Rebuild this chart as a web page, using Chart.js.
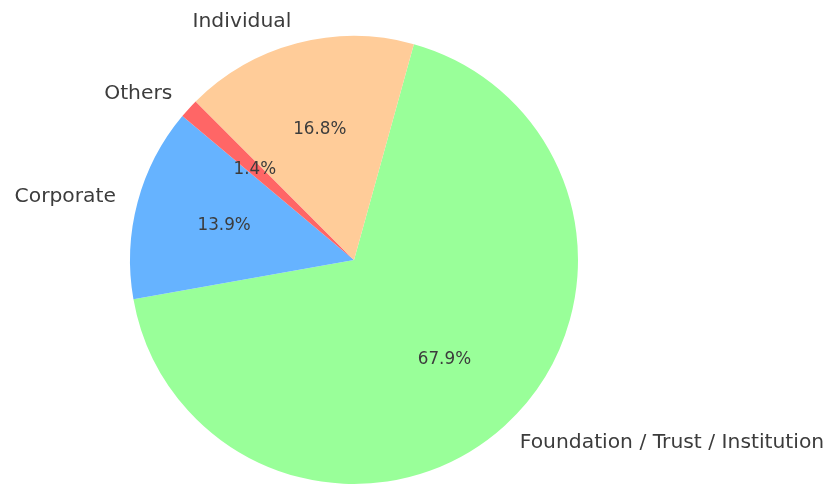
<!DOCTYPE html>
<html>
<head>
<meta charset="utf-8">
<script src="https://cdn.jsdelivr.net/npm/chart.js@4.4.1/dist/chart.umd.min.js"></script>
<style>
  html, body { margin: 0; padding: 0; background: #fff; }
  #wrap { width: 831px; height: 486px; position: relative; }
</style>
</head>
<body>
<div id="wrap"><canvas id="pie"></canvas></div>
<script>
// slices in the order they run clockwise from the top-right edge
const categories = ['Foundation / Trust / Institution', 'Corporate', 'Others', 'Individual'];
const shares = [67.9, 13.9, 1.4, 16.8];
const sliceColors = ['#99ff99', '#66b3ff', '#ff6666', '#ffcc99'];

const textColor = '#3c3c3c';
const fontFamily = '"DejaVu Sans", sans-serif';

// draws the outer labels and the percentages the way matplotlib places them
const pieLabels = {
	id: 'pieLabels',
	afterDatasetsDraw: function (chart) {
		const ctx = chart.ctx;
		const meta = chart.getDatasetMeta(0);
		const total = shares.reduce((a, b) => a + b, 0);
		ctx.save();
		ctx.fillStyle = textColor;
		ctx.textBaseline = 'middle';
		meta.data.forEach(function (arc, i) {
			const p = arc.getProps(['x', 'y', 'startAngle', 'endAngle', 'outerRadius'], true);
			const mid = (p.startAngle + p.endAngle) / 2;
			const cx = Math.cos(mid), cy = Math.sin(mid);

			ctx.font = '20.3px ' + fontFamily;
			ctx.textAlign = cx >= 0 ? 'left' : 'right';
			ctx.fillText(categories[i], p.x + cx * p.outerRadius * 1.1, p.y + cy * p.outerRadius * 1.1);

			ctx.font = '16.8px ' + fontFamily;
			ctx.textAlign = 'center';
			const pct = (shares[i] / total * 100).toFixed(1) + '%';
			ctx.fillText(pct, p.x + cx * p.outerRadius * 0.6, p.y + cy * p.outerRadius * 0.6);
		});
		ctx.restore();
	}
};

new Chart(document.getElementById('pie'), {
	type: 'pie',
	data: {
		labels: categories,
		datasets: [{
			data: shares,
			backgroundColor: sliceColors,
			borderWidth: 0,
			hoverOffset: 0
		}]
	},
	options: {
		responsive: true,
		maintainAspectRatio: false,
		animation: false,
		rotation: 15.5,
		layout: {
			padding: { left: 130, right: 253, top: 36, bottom: 2 }
		},
		plugins: {
			legend: { display: false },
			tooltip: { enabled: false }
		}
	},
	plugins: [pieLabels]
});
</script>
</body>
</html>
